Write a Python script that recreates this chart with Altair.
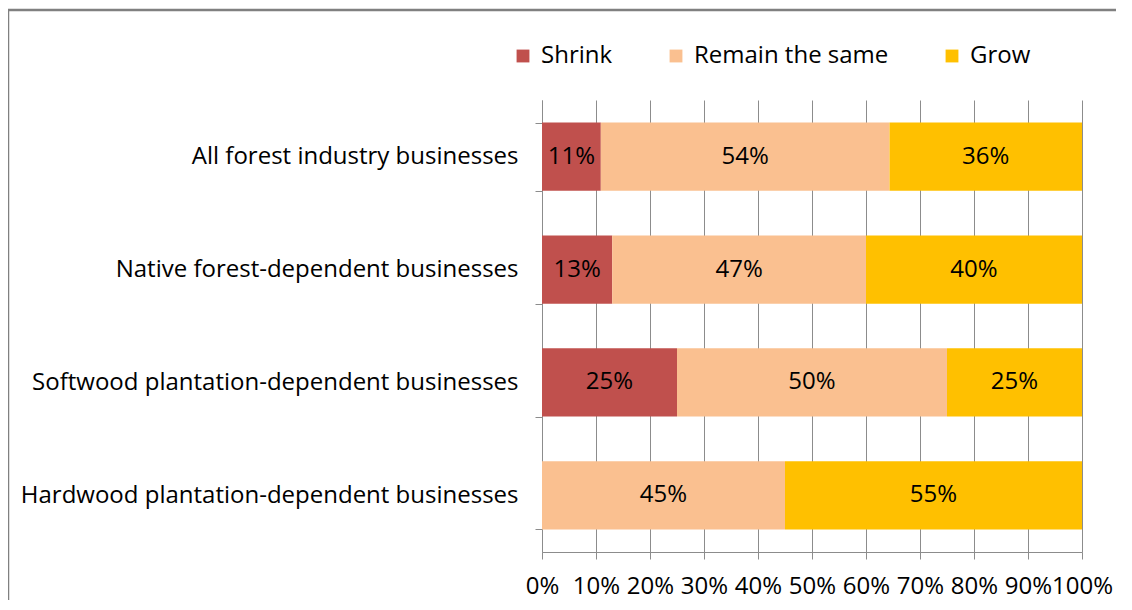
import altair as alt
import pandas as pd

categories = [
    "All forest industry businesses",
    "Native forest-dependent businesses",
    "Softwood plantation-dependent businesses",
    "Hardwood plantation-dependent businesses",
]
series = ["Shrink", "Remain the same", "Grow"]
shrink = [11, 13, 25, 0]
remain = [54, 47, 50, 45]
grow = [36, 40, 25, 55]
colors = ["#C0504D", "#FAC090", "#FFC000"]
x_ticks = [0, 0.1, 0.2, 0.3, 0.4, 0.5, 0.6, 0.7, 0.8, 0.9, 1.0]

FONT = "Open Sans"
FS = 24
GRAY = "#8C8C8C"

rows = []
for i, c in enumerate(categories):
    for j, (s, vals) in enumerate(zip(series, [shrink, remain, grow])):
        rows.append({"category": c, "series": s, "order": j, "value": vals[i],
                     "label": f"{vals[i]}%"})
df = pd.DataFrame(rows)

y_enc = alt.Y("category:N", sort=categories, title=None,
              scale=alt.Scale(paddingInner=0.395, paddingOuter=0.2),
              axis=alt.Axis(tickBand="extent", tickSize=7, labelPadding=17,
                            labelLimit=700, labelFont=FONT, labelFontSize=FS,
                            labelColor="#000000", domainColor=GRAY, tickColor=GRAY,
                            grid=False))

bars = alt.Chart(df).mark_bar().encode(
    y=y_enc,
    x=alt.X("value:Q", stack="normalize", title=None,
            scale=alt.Scale(domain=[0, 1], nice=False),
            axis=alt.Axis(values=x_ticks, format=".0%", tickSize=7, labelPadding=15,
                          labelFont=FONT, labelFontSize=FS, labelColor="#000000",
                          domainColor=GRAY, tickColor=GRAY, grid=True,
                          gridColor=GRAY, gridOpacity=1, labelFlush=False,
                          labelOverlap=False)),
    color=alt.Color("series:N", sort=series,
                    scale=alt.Scale(domain=series, range=colors),
                    legend=alt.Legend(title=None, orient="none", direction="horizontal",
                                      columns=3, legendX=-31, legendY=-56,
                                      symbolType="square", symbolSize=165,
                                      symbolStrokeWidth=0, labelFont=FONT,
                                      labelFontSize=FS, labelColor="#000000",
                                      labelLimit=600,
                                      labelOffset=6, columnPadding=51)),
    order=alt.Order("order:Q"),
)

text = alt.Chart(df).transform_joinaggregate(
    total="sum(value)", groupby=["category"]
).transform_window(
    cum="sum(value)", groupby=["category"], sort=[alt.SortField("order")], frame=[None, 0]
).transform_calculate(
    mid="(datum.cum - datum.value / 2) / datum.total"
).transform_filter(
    "datum.value > 0"
).mark_text(font=FONT, fontSize=FS, color="#000000").encode(
    y=alt.Y("category:N", sort=categories),
    x=alt.X("mid:Q"),
    text="label:N",
)

frame_df = pd.DataFrame({"k": [0]})
frame_top = alt.Chart(frame_df).mark_rule(color="#808080", strokeWidth=2.5).encode(
    x=alt.value(-534), x2=alt.value(600), y=alt.value(-90))
frame_left = alt.Chart(frame_df).mark_rule(color="#808080", strokeWidth=2.5).encode(
    x=alt.value(-534), y=alt.value(-90), y2=alt.value(600))

chart = alt.layer(bars, text, frame_top, frame_left).properties(
    width=540, height=452,
    padding={"left": 534, "top": 92, "right": 34, "bottom": 48},
    autosize="none",
).configure_view(stroke=None)

chart.save("out.html", embed_options={"renderer": "svg", "actions": False})
